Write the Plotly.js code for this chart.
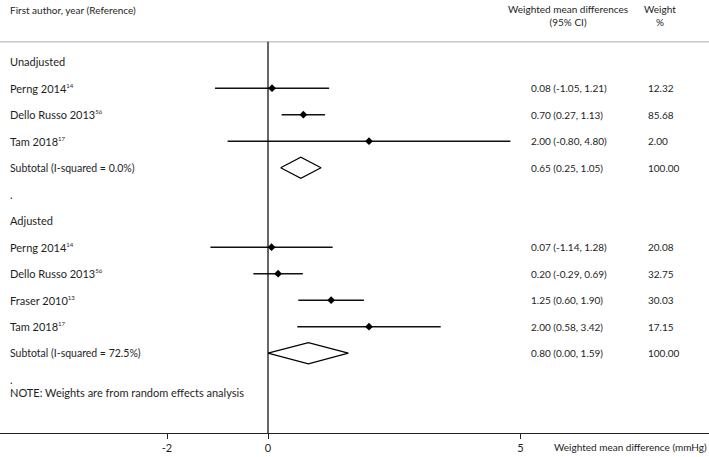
<!DOCTYPE html>
<html>
<head>
<meta charset="utf-8">
<script src="https://cdn.plot.ly/plotly-3.0.1.min.js"></script>
<style>html,body{margin:0;padding:0;background:#fff;}#chart{width:709px;height:457px;}</style>
</head>
<body>
<div id="chart"></div>
<script>
// ---- data ----
const groupNames = ['Unadjusted', 'Adjusted'];
const unadjStudies = ['Perng 2014', 'Dello Russo 2013', 'Tam 2018'];
const unadjRefs = ['14', '56', '17'];
const unadjEst = [0.08, 0.70, 2.00];
const unadjLo = [-1.05, 0.27, -0.80];
const unadjHi = [1.21, 1.13, 4.80];
const unadjWeight = ['12.32', '85.68', '2.00'];
const adjStudies = ['Perng 2014', 'Dello Russo 2013', 'Fraser 2010', 'Tam 2018'];
const adjRefs = ['14', '56', '13', '17'];
const adjEst = [0.07, 0.20, 1.25, 2.00];
const adjLo = [-1.14, -0.29, 0.60, 0.58];
const adjHi = [1.28, 0.69, 1.90, 3.42];
const adjWeight = ['20.08', '32.75', '30.03', '17.15'];
const subtotalEst = [0.65, 0.80];
const subtotalLo = [0.25, 0.00];
const subtotalHi = [1.05, 1.59];
const subtotalI2 = ['0.0%', '72.5%'];
const subtotalWeight = ['100.00', '100.00'];
const tickVals = [-2, 0, 5];
const tickText = ['-2', '0', '5'];
const xAxisTitle = 'Weighted mean difference (mmHg)';
const noteText = 'NOTE: Weights are from random effects analysis';

// ---- build rows ----
const groups = [
  {name: groupNames[0], studies: unadjStudies, refs: unadjRefs, est: unadjEst, lo: unadjLo, hi: unadjHi, w: unadjWeight},
  {name: groupNames[1], studies: adjStudies, refs: adjRefs, est: adjEst, lo: adjLo, hi: adjHi, w: adjWeight}
];
const FONT = 'Lato, "Open Sans", sans-serif';
const TXT = '#1e1e1e';
const colLabel = 8 / 709, colCI = 529 / 709, colW = 646 / 709;
const annotations = [];
const ciX = [], ciY = [], ptX = [], ptY = [];
const diamonds = [];
function fmt(v) { return v.toFixed(2); }
function addText(x, y, text, size, anchor) {
  annotations.push({xref: 'paper', yref: 'y', x: x, y: y, text: text, showarrow: false,
    xanchor: anchor || 'left', yanchor: 'middle', font: {family: FONT, size: size, color: TXT}});
}
let row = 0;
groups.forEach((g, gi) => {
  addText(colLabel, row, g.name, 11);
  row++;
  g.studies.forEach((s, i) => {
    addText(colLabel, row, s + '<sup><span style="font-size:6px">' + g.refs[i] + '</span></sup>', 11);
    addText(colCI, row, fmt(g.est[i]) + ' (' + fmt(g.lo[i]) + ', ' + fmt(g.hi[i]) + ')', 10);
    addText(colW, row, g.w[i], 10);
    ciX.push(g.lo[i], g.hi[i], null); ciY.push(row, row, null);
    ptX.push(g.est[i]); ptY.push(row);
    row++;
  });
  addText(colLabel, row, 'Subtotal (I-squared = ' + subtotalI2[gi] + ')', 10.5);
  addText(colCI, row, fmt(subtotalEst[gi]) + ' (' + fmt(subtotalLo[gi]) + ', ' + fmt(subtotalHi[gi]) + ')', 10);
  addText(colW, row, subtotalWeight[gi], 10);
  diamonds.push({x: [subtotalLo[gi], subtotalEst[gi], subtotalHi[gi], subtotalEst[gi], subtotalLo[gi]],
                 y: [row, row - 0.4, row, row + 0.4, row]});
  row++;
  addText(colLabel, row, '.', 11);
  row++;
});
addText(colLabel, row - 0.5, noteText, 11);

// header
annotations.push({xref: 'paper', yref: 'paper', x: colLabel, y: 1 - 10 / 433, text: 'First author, year (Reference)',
  showarrow: false, xanchor: 'left', yanchor: 'middle', font: {family: FONT, size: 10, color: TXT}});
annotations.push({xref: 'paper', yref: 'paper', x: 568 / 709, y: 1, text: 'Weighted mean differences<br>(95% CI)',
  showarrow: false, xanchor: 'center', yanchor: 'top', yshift: -1, align: 'center', font: {family: FONT, size: 10, color: TXT}});
annotations.push({xref: 'paper', yref: 'paper', x: 660 / 709, y: 1, text: 'Weight<br>%',
  showarrow: false, xanchor: 'center', yanchor: 'top', yshift: -1, align: 'center', font: {family: FONT, size: 10, color: TXT}});
// axis title
annotations.push({xref: 'paper', yref: 'paper', x: 552 / 709, y: 0, yshift: -14, text: xAxisTitle,
  showarrow: false, xanchor: 'left', yanchor: 'middle', font: {family: FONT, size: 10, color: TXT}});

const traces = [];
traces.push({x: ciX, y: ciY, mode: 'lines', line: {color: '#111', width: 1.5}, hoverinfo: 'skip', showlegend: false});
traces.push({x: ptX, y: ptY, mode: 'markers', marker: {symbol: 'diamond', size: 6, color: '#000'}, hoverinfo: 'skip', showlegend: false});
diamonds.forEach(d => traces.push({x: d.x, y: d.y, mode: 'lines', line: {color: '#000', width: 1.2}, hoverinfo: 'skip', showlegend: false}));

const yTop = -61.7 / 26.5, yBot = (433 - 61.7) / 26.5;
const headerLineY = (41.7 - 61.7) / 26.5;

const layout = {
  width: 709, height: 457,
  margin: {l: 0, r: 0, t: 0, b: 24},
  paper_bgcolor: '#fff', plot_bgcolor: '#fff',
  showlegend: false,
  xaxis: {range: [-268 / 50.5, (709 - 268) / 50.5], tickvals: tickVals, ticktext: tickText,
    showgrid: false, zeroline: false, showline: true, linecolor: '#222', linewidth: 1,
    ticks: 'outside', ticklen: 5, tickcolor: '#222', tickwidth: 1,
    tickfont: {family: FONT, size: 11, color: TXT}, fixedrange: true},
  yaxis: {range: [yBot, yTop], showgrid: false, zeroline: false, showline: false, showticklabels: false, ticks: '', fixedrange: true},
  shapes: [
    {type: 'line', xref: 'paper', yref: 'y', x0: 0, x1: 1, y0: headerLineY, y1: headerLineY, line: {color: '#c8c8c8', width: 1.5}},
    {type: 'line', xref: 'x', yref: 'y', x0: 0, x1: 0, y0: headerLineY, y1: yBot, line: {color: '#000', width: 1.2}}
  ],
  annotations: annotations
};
Plotly.newPlot('chart', traces, layout, {displayModeBar: false, staticPlot: true});
</script>
</body>
</html>
